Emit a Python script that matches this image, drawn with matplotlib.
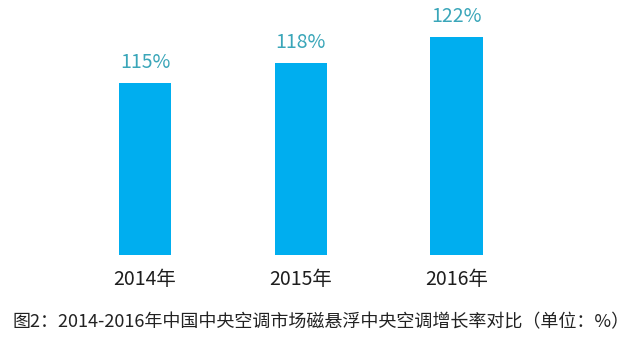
import numpy as np
import matplotlib
matplotlib.use('Agg')
import matplotlib.pyplot as plt

plt.rcParams['font.family'] = ['Noto Sans CJK SC', 'DejaVu Sans']

#donnees
annees = ['2014年', '2015年', '2016年']
taux = [115, 118, 122]
etiquettes = ['115%', '118%', '122%']
legende = '图2：2014-2016年中国中央空调市场磁悬浮中央空调增长率对比（单位：%）'

fig = plt.figure(figsize=(6.38, 3.54), dpi=100)
ax = fig.add_axes([0, 99/354, 1, 225/354])

x = np.arange(len(annees))
ax.bar(x, taux, width=0.334, color='#00aeef')
for i in range(len(taux)):
    ax.text(x[i], taux[i] + 1.5, etiquettes[i], ha='center', va='bottom',
            fontsize=14, color='#3aa6b9')

ax.set_xlim(-145/155.75, (638-145)/155.75)
ax.set_ylim(88.5, 88.5 + 225/6.5)
ax.set_xticks(x)
ax.set_xticklabels(annees, fontsize=14, color='#1e1e1e')
ax.tick_params(axis='x', length=0, pad=10)
ax.set_yticks([])
for s in ax.spines.values():
    s.set_visible(False)

fig.text(12/638, 0.09, legende, ha='left', va='center', fontsize=13, color='#222222')

fig.savefig('out.png', dpi=100)
